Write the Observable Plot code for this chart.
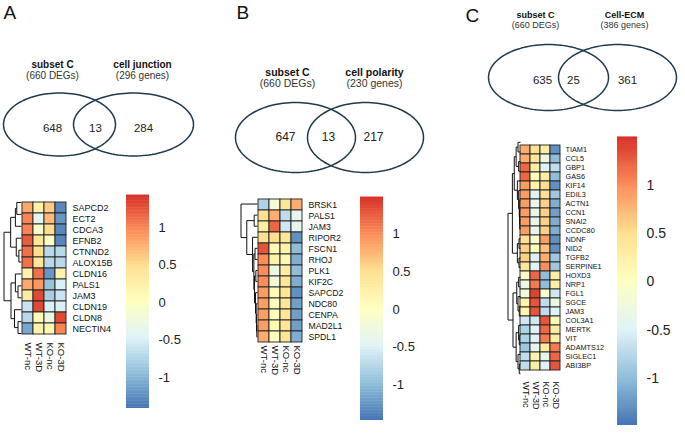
<!DOCTYPE html>
<html><head><meta charset="utf-8">
<script src="https://cdn.jsdelivr.net/npm/d3@7"></script>
<script src="https://cdn.jsdelivr.net/npm/@observablehq/plot@0.6"></script>
<style>
body{margin:0;background:#fff;}
#fig{position:relative;width:685px;height:437px;overflow:hidden;background:#fff;}
#fig svg{position:absolute;overflow:visible;}
</style></head><body><div id="fig"></div>
<script>
// ---------------- data ----------------
const samples = ["WT-nc", "WT-3D", "KO-nc", "KO-3D"];

const genesA = ["SAPCD2","ECT2","CDCA3","EFNB2","CTNND2","ALOX15B","CLDN16","PALS1","JAM3","CLDN19","CLDN8","NECTIN4"];
const valuesA = [
  [0.8, 0.2, 0.6, -1.3],
  [1.0, -0.4, 0.7, -1.2],
  [1.0, -0.1, 0.5, -1.3],
  [1.2, 0.4, -0.05, -1.3],
  [1.1, 0.5, -0.7, -0.7],
  [1.1, 0.4, -0.7, -0.7],
  [0.2, 1.1, -1.2, 0.2],
  [0.8, 0.9, -0.9, -0.5],
  [0.3, 1.3, -0.8, -0.6],
  [-0.6, 1.3, -0.5, -0.5],
  [-0.7, 0.1, -0.3, 1.3],
  [-1.1, 0.2, 0.1, 1.0]
];
const treeA = [1.0,
  [0.62, [0.35, [0.27, "SAPCD2", "ECT2"], "CDCA3"], [0.3, "EFNB2", [0.15, "CTNND2", "ALOX15B"]]],
  [0.6, [0.35, "CLDN16", [0.2, "PALS1", "JAM3"]], [0.4, "CLDN19", [0.2, "CLDN8", "NECTIN4"]]]
];

const genesB = ["BRSK1","PALS1","JAM3","RIPOR2","FSCN1","RHOJ","PLK1","KIF2C","SAPCD2","NDC80","CENPA","MAD2L1","SPDL1"];
const valuesB = [
  [-0.8, -0.2, 0.4, 0.8],
  [0.5, 0.8, -0.7, -0.4],
  [0.3, 1.2, -0.6, -0.4],
  [0.5, 0.5, 0.4, -1.3],
  [1.3, 0.1, 0.2, -1.0],
  [1.0, 0.2, 0.1, -1.1],
  [1.0, -0.3, 0.3, -1.0],
  [1.0, -0.2, 0.4, -1.1],
  [0.9, 0.1, 0.4, -1.3],
  [0.9, 0.0, 0.4, -1.2],
  [0.9, 0.0, 0.4, -1.2],
  [0.9, 0.1, 0.4, -1.2],
  [0.8, 0.0, 0.4, -1.1]
];
const treeB = [1.0,
  "BRSK1",
  [0.65, [0.2, "PALS1", "JAM3"],
    [0.3, "RIPOR2", [0.22, [0.15, "FSCN1", "RHOJ"], [0.18, [0.1, "PLK1", "KIF2C"], [0.12, "SAPCD2", [0.08, "NDC80", [0.06, "CENPA", [0.04, "MAD2L1", "SPDL1"]]]]]]]]
];

const genesC = ["TIAM1","CCL5","GBP1","GAS6","KIF14","EDIL3","ACTN1","CCN1","SNAI2","CCDC80","NDNF","NID2","TGFB2","SERPINE1","HOXD3","NRP1","FGL1","SGCE","JAM3","COL3A1","MERTK","VIT","ADAMTS12","SIGLEC1","ABI3BP"];
const valuesC = [
  [0.8, 0.5, 0.3, -1.3],
  [0.8, 0.4, -0.3, -1.0],
  [1.2, 0.3, -0.5, -0.7],
  [1.2, 0.0, 0.3, -1.0],
  [0.9, 0.2, 0.5, -1.3],
  [0.9, -0.5, 0.5, -0.9],
  [0.9, -0.4, 0.6, -1.1],
  [0.9, -0.4, 0.6, -1.2],
  [0.9, -0.4, 0.6, -1.1],
  [0.9, -0.4, 0.6, -1.1],
  [0.5, -0.1, 0.9, -1.3],
  [0.6, 0.0, 0.7, -1.3],
  [0.6, -0.5, 0.8, -0.9],
  [0.4, -0.5, 1.0, -0.9],
  [-0.1, 1.2, -1.0, 0.3],
  [-0.3, 1.1, -1.0, 0.3],
  [-0.2, 1.4, -0.1, -0.6],
  [0.2, 1.3, -0.7, -0.3],
  [0.2, 1.3, -0.7, -0.5],
  [-0.6, -0.6, 1.3, 0.1],
  [-0.8, -0.5, 1.2, 0.3],
  [-0.8, -0.5, 1.1, 0.3],
  [-0.9, -0.4, 0.3, 1.1],
  [-0.7, 0.2, -0.4, 1.2],
  [-0.7, 0.3, -0.5, 1.3]
];
const treeC = [1.0,
  [0.65,
    [0.5, [0.35, [0.2, "TIAM1", "CCL5"], [0.15, "GBP1", "GAS6"]],
          [0.25, "KIF14", [0.15, "EDIL3", [0.1, "ACTN1", [0.08, "CCN1", [0.06, "SNAI2", "CCDC80"]]]]]],
    [0.25, [0.12, "NDNF", "NID2"], [0.12, "TGFB2", "SERPINE1"]]],
  [0.6,
    [0.3, [0.15, "HOXD3", "NRP1"], [0.2, "FGL1", [0.1, "SGCE", "JAM3"]]],
    [0.35, [0.15, "COL3A1", [0.1, "MERTK", "VIT"]], [0.2, "ADAMTS12", [0.1, "SIGLEC1", "ABI3BP"]]]]
];

const legendTicks = [-1, -0.5, 0, 0.5, 1];
const panelLetters = ["A", "B", "C"];
const vennTitles = [["subset C", "cell junction"], ["subset C", "cell polarity"], ["subset C", "Cell-ECM"]];
const vennSubtitles = [["(660 DEGs)", "(296 genes)"], ["(660 DEGs)", "(230 genes)"], ["(660 DEGs)", "(386 genes)"]];
const vennCounts = [[648, 13, 284], [647, 13, 217], [635, 25, 361]];

// palette (pheatmap default: rev RdYlBu 7)
const pal = ["#4575B4", "#91BFDB", "#E0F3F8", "#FFFFBF", "#FEE090", "#FC8D59", "#D73027"];
const FONT = "'Liberation Sans', Arial, Helvetica, sans-serif";

const fig = document.getElementById("fig");
function place(svg, left, top) {
  svg.style.left = left + "px";
  svg.style.top = top + "px";
  fig.appendChild(svg);
}
function colorScale(lo, hi) {
  return {type: "linear", domain: d3.range(7).map(i => lo + (hi - lo) * i / 6), range: pal, clamp: true};
}
const baseStyle = {fontFamily: FONT, background: "transparent", color: "#111", overflow: "visible"};

// ---------------- heatmap ----------------
function heatmap({genes, values, left, top, cw, ch, labelSize, sampleSize, lo, hi}) {
  const data = [];
  genes.forEach((g, i) => samples.forEach((s, j) => data.push({gene: g, sample: s, value: values[i][j]})));
  const W = cw * 4, H = ch * genes.length;
  const svg = Plot.plot({
    width: W + 2 + 75, height: H + 2 + 50,
    marginLeft: 1, marginTop: 1, marginRight: 76, marginBottom: 51,
    x: {domain: samples, padding: 0},
    y: {domain: genes, padding: 0},
    color: colorScale(lo, hi),
    style: baseStyle,
    marks: [
      Plot.cell(data, {x: "sample", y: "gene", fill: "value", stroke: "#222", strokeWidth: 0.9, inset: 0}),
      Plot.axisY({anchor: "right", tickSize: 0, tickPadding: 5, fontSize: labelSize, label: null}),
      Plot.axisX({anchor: "bottom", tickSize: 0, tickPadding: 3, tickRotate: 90, fontSize: sampleSize, label: null})
    ]
  });
  place(svg, left - 1, top - 1);
}

// ---------------- dendrogram ----------------
function dendro({tree, genes, left, top, w, h}) {
  const segs = [];
  function walk(node) {
    if (typeof node === "string") return {y: genes.indexOf(node) + 0.5, h: 0};
    const [hh, a, b] = node;
    const ca = walk(a), cb = walk(b);
    segs.push({x1: ca.h, y1: ca.y, x2: hh, y2: ca.y});
    segs.push({x1: cb.h, y1: cb.y, x2: hh, y2: cb.y});
    segs.push({x1: hh, y1: ca.y, x2: hh, y2: cb.y});
    return {y: (ca.y + cb.y) / 2, h: hh};
  }
  const root = walk(tree);
  const svg = Plot.plot({
    width: w, height: h, marginLeft: 0, marginRight: 0, marginTop: 0, marginBottom: 0,
    x: {domain: [root.h, 0], range: [0.5, w], axis: null},
    y: {domain: [0, genes.length], range: [0, h], axis: null},
    style: baseStyle,
    marks: [Plot.link(segs, {x1: "x1", y1: "y1", x2: "x2", y2: "y2", stroke: "#111", strokeWidth: 1})]
  });
  place(svg, left, top);
}

// ---------------- colour legend ----------------
function legend({left, top, w, h, lo, hi, fontSize}) {
  const N = 150, dy = (hi - lo) / N;
  const steps = d3.range(N).map(i => lo + dy * i);
  const svg = Plot.plot({
    width: w + 45, height: h, marginLeft: 0, marginRight: 45, marginTop: 0, marginBottom: 0,
    x: {domain: [0, 1], axis: null},
    y: {domain: [lo, hi]},
    color: colorScale(lo, hi),
    style: baseStyle,
    marks: [
      Plot.rect(steps, {x1: 0, x2: 1, y1: d => d, y2: d => d + dy * 1.3, fill: d => d + dy / 2}),
      Plot.axisY(legendTicks, {anchor: "right", tickSize: 0, tickPadding: 9, fontSize, tickFormat: d => String(d), label: null, fill: "#222"})
    ]
  });
  place(svg, left, top);
}

// ---------------- venn + panel letters (overlay) ----------------
const vennLayout = [
  {L: [59, 124, 56, 31.5], R: [133, 124, 60, 31.5], tx: [52, 142], ty: 64, fs: 10, ny: 128, nx: [52, 95, 143], nfs: 11.5},
  {L: [295, 137, 60, 35], R: [365, 137, 58, 35], tx: [287, 374], ty: 72, fs: 10.5, ny: 137, nx: [285, 328, 373], nfs: 12},
  {L: [548, 77, 60, 33], R: [617, 77, 59, 33], tx: [535, 624], ty: 15, fs: 9, ny: 80, nx: [542, 573, 627], nfs: 11.5}
];
const letterPos = [[3, 12], [236, 12], [465, 15]];

const ellipsePts = [], texts = [], bolds = [], nums = [];
vennLayout.forEach((v, k) => {
  [v.L, v.R].forEach((e, side) => {
    for (let i = 0; i <= 120; i++) {
      const t = 2 * Math.PI * i / 120;
      ellipsePts.push({id: k * 2 + side, x: e[0] + e[2] * Math.cos(t), y: e[1] + e[3] * Math.sin(t)});
    }
    bolds.push({x: v.tx[side], y: v.ty, text: vennTitles[k][side], fs: v.fs});
    texts.push({x: v.tx[side], y: v.ty + v.fs * 1.1, text: vennSubtitles[k][side], fs: v.fs});
  });
  vennCounts[k].forEach((c, i) => nums.push({x: v.nx[i], y: v.ny, text: String(c), fs: v.nfs}));
});
const letters = panelLetters.map((t, i) => ({x: letterPos[i][0], y: letterPos[i][1], text: t}));

const overlay = Plot.plot({
  width: 685, height: 437, marginLeft: 0, marginRight: 0, marginTop: 0, marginBottom: 0,
  x: {domain: [0, 685], range: [0, 685], axis: null},
  y: {domain: [0, 437], range: [0, 437], axis: null},
  style: baseStyle,
  marks: [
    Plot.line(ellipsePts, {x: "x", y: "y", z: "id", stroke: "#1f3a4b", strokeWidth: 1.5}),
    Plot.text(bolds, {x: "x", y: "y", text: "text", fontSize: d => d.fs, fontWeight: "bold", fill: "#111"}),
    Plot.text(texts, {x: "x", y: "y", text: "text", fontSize: d => d.fs, fill: "#333"}),
    Plot.text(nums, {x: "x", y: "y", text: "text", fontSize: d => d.fs, fill: "#222"}),
    Plot.text(letters, {x: "x", y: "y", text: "text", fontSize: 19, textAnchor: "start", fill: "#111"})
  ]
});
place(overlay, 0, 0);

// ---------------- panels ----------------
const domA = [-1.413, 1.427], domB = [-1.48, 1.49], domC = [-1.485, 1.495];
heatmap({genes: genesA, values: valuesA, left: 21, top: 196, cw: 11.5, ch: 143 / 12, labelSize: 9, sampleSize: 9.5, lo: domA[0], hi: domA[1]});
dendro({tree: treeA, genes: genesA, left: 3, top: 196, w: 18, h: 143});
legend({left: 126, top: 195, w: 23, h: 213, lo: domA[0], hi: domA[1], fontSize: 13});

heatmap({genes: genesB, values: valuesB, left: 257, top: 198, cw: 11.5, ch: 144 / 13, labelSize: 8.7, sampleSize: 9.5, lo: domB[0], hi: domB[1]});
dendro({tree: treeB, genes: genesB, left: 240, top: 198, w: 17, h: 144});
legend({left: 360, top: 197, w: 23, h: 223, lo: domB[0], hi: domB[1], fontSize: 13});

heatmap({genes: genesC, values: valuesC, left: 520, top: 137, cw: 10, ch: 241 / 25, labelSize: 7.3, sampleSize: 9, lo: domC[0], hi: domC[1]});
dendro({tree: treeC, genes: genesC, left: 507, top: 137, w: 13, h: 241});
legend({left: 617, top: 137, w: 20, h: 288, lo: domC[0], hi: domC[1], fontSize: 14});
</script></body></html>
